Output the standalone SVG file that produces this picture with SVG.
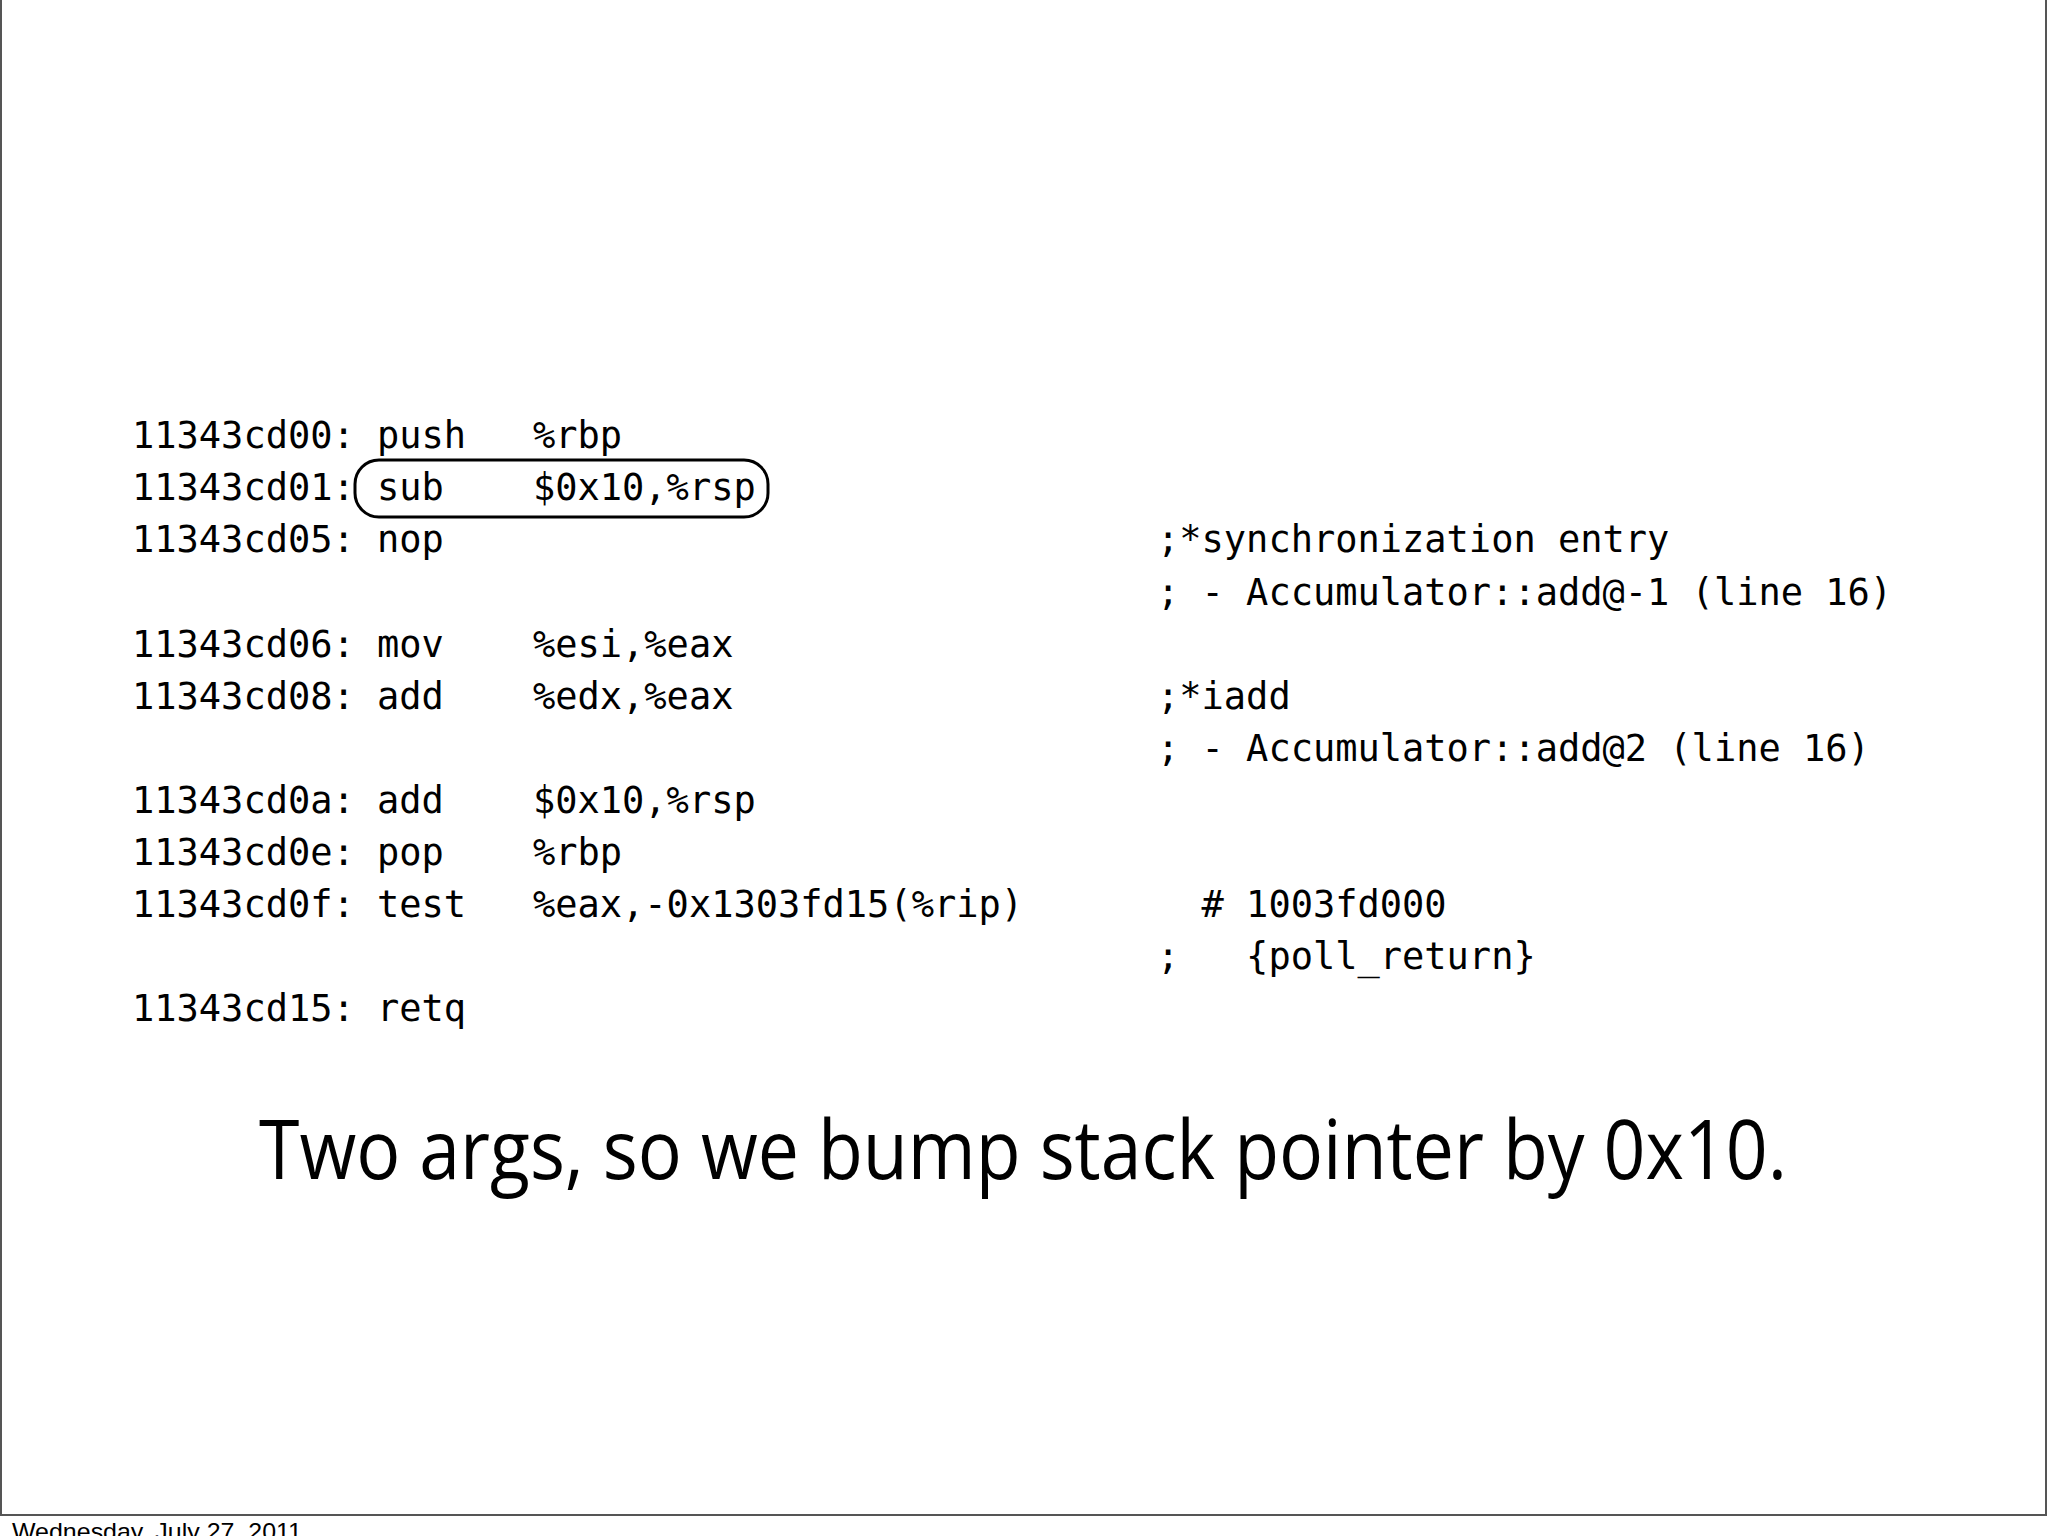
<svg xmlns="http://www.w3.org/2000/svg" width="2048" height="1536" viewBox="0 0 2048 1536">
<style>
.c{font-family:"DejaVu Sans Mono","Liberation Mono",monospace;font-size:37px;fill:#000;white-space:pre}
</style>
<rect x="0" y="0" width="2048" height="1536" fill="#fff"/>
<rect x="1" y="-2" width="2045" height="1517" fill="none" stroke="#555" stroke-width="2"/>
<g id="code">
<text class="c" x="132" y="448" xml:space="preserve">11343cd00: push   %rbp</text>
<text class="c" x="132" y="500" xml:space="preserve">11343cd01: sub    $0x10,%rsp</text>
<text class="c" x="132" y="552" xml:space="preserve">11343cd05: nop</text>
<text class="c" x="132" y="657" xml:space="preserve">11343cd06: mov    %esi,%eax</text>
<text class="c" x="132" y="709" xml:space="preserve">11343cd08: add    %edx,%eax</text>
<text class="c" x="132" y="813" xml:space="preserve">11343cd0a: add    $0x10,%rsp</text>
<text class="c" x="132" y="865" xml:space="preserve">11343cd0e: pop    %rbp</text>
<text class="c" x="132" y="917" xml:space="preserve">11343cd0f: test   %eax,-0x1303fd15(%rip)</text>
<text class="c" x="132" y="1021" xml:space="preserve">11343cd15: retq</text>
<text class="c" x="1157" y="552" xml:space="preserve">;*synchronization entry</text>
<text class="c" x="1157" y="605" xml:space="preserve">; - Accumulator::add@-1 (line 16)</text>
<text class="c" x="1157" y="709" xml:space="preserve">;*iadd</text>
<text class="c" x="1157" y="761" xml:space="preserve">; - Accumulator::add@2 (line 16)</text>
<text class="c" x="1157" y="917" xml:space="preserve">  # 1003fd000</text>
<text class="c" x="1157" y="969" xml:space="preserve">;   {poll_return}</text>
</g>
<g id="highlight">
<rect x="355" y="460" width="413" height="57" rx="24" fill="none" stroke="#000" stroke-width="3"/>
</g>
<text x="259" y="1179" font-family="'Open Sans','Liberation Sans',sans-serif" font-size="82" textLength="1528" lengthAdjust="spacingAndGlyphs">Two args, so we bump stack pointer by 0x10.</text>
<text x="12" y="1540" font-family="'Liberation Sans',Arial,sans-serif" font-size="24" textLength="290" lengthAdjust="spacingAndGlyphs">Wednesday, July 27, 2011</text>
</svg>
